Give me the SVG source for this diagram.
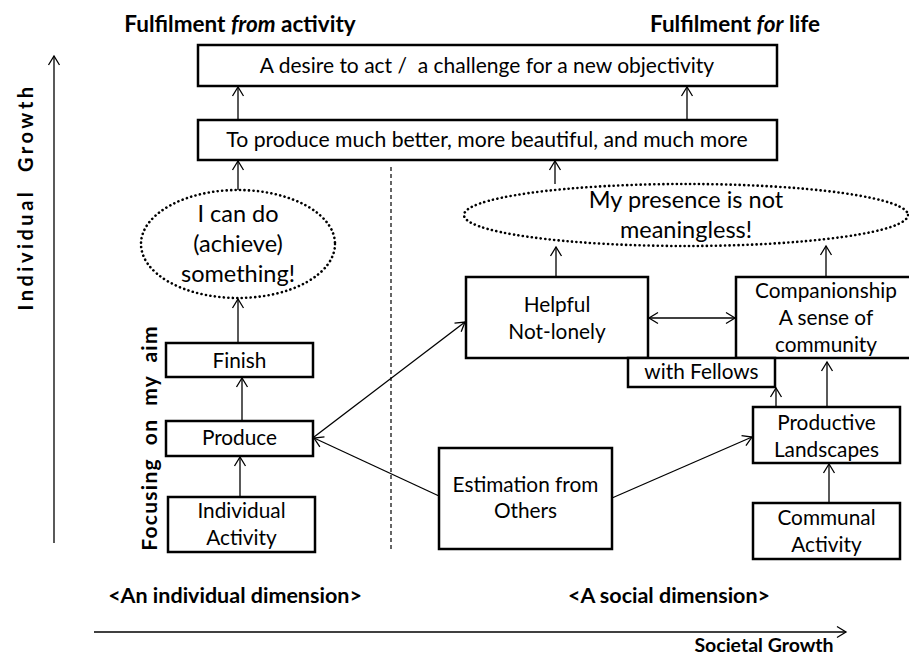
<svg xmlns="http://www.w3.org/2000/svg" width="909" height="661" viewBox="0 0 909 661">
<defs>
<style>
text{font-family:"Lato","Open Sans",sans-serif;fill:#000;text-anchor:middle;white-space:pre}
.b{font-weight:bold}
.box{fill:#fff;stroke:#000;stroke-width:2.5}
.t{font-size:20.8px}
.e{font-size:23.5px}
.h{font-size:21.5px;font-weight:bold}
.dots{fill:none;stroke:#000;stroke-width:2.6;stroke-dasharray:0.1 4.4;stroke-linecap:round}
.c{stroke:#000;stroke-width:1.3;fill:none;marker-end:url(#ah)}
.ax{stroke:#000;stroke-width:1.3;fill:none;marker-end:url(#ah)}
</style>
<marker id="ah" markerUnits="userSpaceOnUse" markerWidth="14" markerHeight="14" refX="10" refY="6" orient="auto-start-reverse" viewBox="0 0 14 12">
<path d="M1,0.5 L10,6 L1,11.5" fill="none" stroke="#000" stroke-width="1.3"/>
</marker>
</defs>
<rect width="909" height="661" fill="#fff"/>

<g id="axes">
<line class="ax" x1="54" y1="543" x2="54" y2="56"/>
<text class="b" font-size="20" letter-spacing="3.5" transform="translate(33,197) rotate(-90)">Individual  Growth</text>
<line class="ax" x1="94" y1="632" x2="846" y2="632"/>
<text class="h" x="764" y="652" style="font-size:19.5px">Societal Growth</text>
<text class="b" font-size="21" letter-spacing="1.3" transform="translate(157,438) rotate(-90)">Focusing  on  my  aim</text>
<line x1="391" y1="167" x2="391" y2="552" stroke="#000" stroke-width="1.2" stroke-dasharray="4 3"/>
</g>

<g id="headers">
<text class="h" x="240" y="32" style="font-size:22.5px">Fulfilment <tspan font-style="italic">from</tspan> activity</text>
<text class="h" x="735" y="32" style="font-size:22.5px">Fulfilment <tspan font-style="italic">for</tspan> life</text>
<text class="h" x="235" y="603">&lt;An individual dimension&gt;</text>
<text class="h" x="669" y="603">&lt;A social dimension&gt;</text>
</g>

<g id="desire">
<rect class="box" x="198" y="45" width="579" height="41"/>
<text class="t" x="487" y="73" style="font-size:21px">A desire to act /  a challenge for a new objectivity</text>
</g>
<g id="produce-better">
<rect class="box" x="198" y="120" width="579" height="40"/>
<text class="t" x="487" y="147" style="font-size:21.2px">To produce much better, more beautiful, and much more</text>
</g>
<g id="i-can-do">
<ellipse class="dots" cx="238" cy="244" rx="97" ry="54"/>
<text class="e" x="238" y="222">I can do</text>
<text class="e" x="238" y="252">(achieve)</text>
<text class="e" x="238" y="282">something!</text>
</g>
<g id="presence">
<ellipse class="dots" cx="686" cy="215" rx="222" ry="31"/>
<text class="e" x="686" y="208">My presence is not</text>
<text class="e" x="686" y="238">meaningless!</text>
</g>
<g id="finish">
<rect class="box" x="166" y="343" width="147" height="34"/>
<text class="t" x="239.5" y="368">Finish</text>
</g>
<g id="produce">
<rect class="box" x="166" y="421" width="147" height="35"/>
<text class="t" x="239.5" y="445">Produce</text>
</g>
<g id="individual-activity">
<rect class="box" x="168" y="497" width="147" height="55"/>
<text class="t" x="241.5" y="518">Individual</text>
<text class="t" x="241.5" y="545">Activity</text>
</g>
<g id="estimation">
<rect class="box" x="439" y="448" width="173" height="101"/>
<text class="t" x="525.5" y="492">Estimation from</text>
<text class="t" x="525.5" y="518">Others</text>
</g>
<g id="helpful">
<rect class="box" x="466" y="277" width="182" height="81"/>
<text class="t" x="557" y="312">Helpful</text>
<text class="t" x="557" y="339">Not-lonely</text>
</g>
<g id="companionship">
<rect class="box" x="736" y="277" width="180" height="81"/>
<text class="t" x="826" y="298">Companionship</text>
<text class="t" x="826" y="325">A sense of</text>
<text class="t" x="826" y="352">community</text>
</g>
<g id="with-fellows">
<rect class="box" x="628" y="358" width="147" height="29"/>
<text class="t" x="701.5" y="379">with Fellows</text>
</g>
<g id="productive-landscapes">
<rect class="box" x="753" y="407" width="147" height="56"/>
<text class="t" x="826.5" y="430">Productive</text>
<text class="t" x="826.5" y="457">Landscapes</text>
</g>
<g id="communal-activity">
<rect class="box" x="753" y="503" width="147" height="56"/>
<text class="t" x="826.5" y="525">Communal</text>
<text class="t" x="826.5" y="552">Activity</text>
</g>

<g id="connectors">
<line class="c" x1="238" y1="120" x2="238" y2="87"/>
<line class="c" x1="687" y1="120" x2="687" y2="87"/>
<line class="c" x1="238" y1="190" x2="238" y2="161"/>
<line class="c" x1="555" y1="184" x2="555" y2="161"/>
<line class="c" x1="238" y1="343" x2="238" y2="299"/>
<line class="c" x1="242" y1="421" x2="242" y2="378"/>
<line class="c" x1="240" y1="497" x2="240" y2="457"/>
<line class="c" x1="439" y1="496" x2="314" y2="438"/>
<line class="c" x1="314" y1="437" x2="465" y2="322"/>
<line class="c" x1="612" y1="498" x2="752" y2="437"/>
<line class="c" x1="556" y1="277" x2="556" y2="247"/>
<line class="c" x1="826" y1="277" x2="826" y2="246"/>
<line class="c" x1="649" y1="318" x2="735" y2="318" style="marker-start:url(#ah)"/>
<line class="c" x1="776" y1="407" x2="776" y2="388"/>
<line class="c" x1="827" y1="407" x2="827" y2="362"/>
<line class="c" x1="829" y1="503" x2="829" y2="464"/>
</g>
</svg>
